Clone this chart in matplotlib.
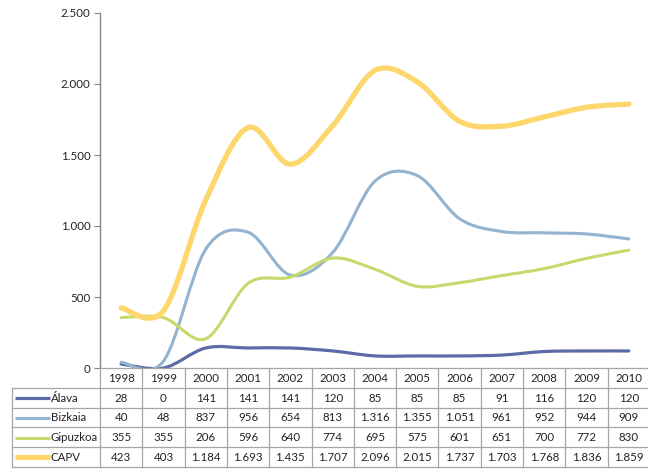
"""Smoothed line chart with data table underneath (Excel style)."""

import numpy as np
import matplotlib
matplotlib.use("Agg")
import matplotlib.pyplot as plt
from matplotlib.path import Path
from matplotlib.patches import PathPatch
from matplotlib.lines import Line2D

plt.rcParams["font.family"] = ["Lato", "DejaVu Sans"]

years = [1998, 1999, 2000, 2001, 2002, 2003, 2004, 2005, 2006, 2007, 2008, 2009, 2010]
alava = [28, 0, 141, 141, 141, 120, 85, 85, 85, 91, 116, 120, 120]
bizkaia = [40, 48, 837, 956, 654, 813, 1316, 1355, 1051, 961, 952, 944, 909]
gipuzkoa = [355, 355, 206, 596, 640, 774, 695, 575, 601, 651, 700, 772, 830]
capv = [423, 403, 1184, 1693, 1435, 1707, 2096, 2015, 1737, 1703, 1768, 1836, 1859]

series_names = ["Álava", "Bizkaia", "Gipuzkoa", "CAPV"]
series_vals = [alava, bizkaia, gipuzkoa, capv]
colours = ["#5d6aa5", "#93b3cf", "#c7d96c", "#fdd66c"]
widths = [2.3, 2.2, 2.2, 3.8]

y_ticks = [0, 500, 1000, 1500, 2000, 2500]

W, H = 648, 469
GRID = "#a6a6a6"
TXT = "#222222"
FS = 8.3


def fmt(v):
    return f"{v:,}".replace(",", ".")


def smooth_path(ys):
    """Excel-like smoothed line: cubic Bezier through every point."""
    pts = np.column_stack([np.arange(len(ys)), np.asarray(ys, float)])
    verts = [pts[0]]
    codes = [Path.MOVETO]
    n = len(pts)
    for i in range(n - 1):
        p0 = pts[max(i - 1, 0)]
        p1 = pts[i]
        p2 = pts[i + 1]
        p3 = pts[min(i + 2, n - 1)]
        c1 = p1 + (p2 - p0) / 6.0
        c2 = p2 - (p3 - p1) / 6.0
        verts += [c1, c2, p2]
        codes += [Path.CURVE4] * 3
    return Path(verts, codes)


fig = plt.figure(figsize=(W / 100, H / 100), dpi=100)
fig.patch.set_facecolor("white")

# pixel geometry
ax_left, ax_right = 100, 650
ax_top, ax_bot = 13, 368
ax = fig.add_axes([ax_left / W, (H - ax_bot) / H,
                   (ax_right - ax_left) / W, (ax_bot - ax_top) / H])

n = len(years)
ax.set_xlim(-0.5, n - 0.5)
ax.set_ylim(0, 2500)

for name, vals, c, lw in zip(series_names, series_vals, colours, widths):
    patch = PathPatch(smooth_path(vals), facecolor="none", edgecolor=c,
                      linewidth=lw, capstyle="round", joinstyle="round")
    ax.add_patch(patch)

for side in ("top", "right", "bottom"):
    ax.spines[side].set_visible(False)
ax.spines["left"].set_color("#868686")
ax.spines["left"].set_linewidth(1.0)
ax.set_xticks([])
ax.set_yticks(y_ticks)
ax.set_yticklabels([fmt(v) for v in y_ticks])
ax.tick_params(axis="y", direction="out", length=4, color="#868686",
               labelsize=FS, labelcolor=TXT, pad=3)

# ── data table ────────────────────────────────────────────────────────────────
tb_top, tb_bot = 368, 467
tax = fig.add_axes([ax_left / W, (H - tb_bot) / H,
                    (ax_right - ax_left) / W, (tb_bot - tb_top) / H])
tax.set_xlim(-0.5, n - 0.5)
n_rows = len(series_names) + 1
tax.set_ylim(n_rows, 0)
tax.axis("off")

col_w_px = (ax_right - ax_left) / n
leg_left = -0.5 - (ax_left - 12) / col_w_px

kw = dict(color=GRID, linewidth=0.9, clip_on=False)
# horizontal borders
tax.add_line(Line2D([-0.5, n - 0.5], [0, 0], **kw))
for r in range(1, n_rows + 1):
    tax.add_line(Line2D([leg_left, n - 0.5], [r, r], **kw))
# vertical borders
for c in range(n + 1):
    tax.add_line(Line2D([c - 0.5, c - 0.5], [0, n_rows], **kw))
tax.add_line(Line2D([leg_left, leg_left], [1, n_rows], **kw))

for i, yr in enumerate(years):
    tax.text(i, 0.52, str(yr), ha="center", va="center", fontsize=FS, color=TXT)

sw_a = leg_left + 3 / col_w_px
sw_b = leg_left + 38 / col_w_px
for r, (name, vals, c, lw) in enumerate(zip(series_names, series_vals, colours, widths), start=1):
    yc = r + 0.52
    tax.add_line(Line2D([sw_a, sw_b], [yc, yc], color=c, linewidth=lw,
                        solid_capstyle="butt", clip_on=False))
    tax.text(sw_b + 0.02, yc, name, ha="left", va="center", fontsize=FS, color=TXT)
    for i, v in enumerate(vals):
        tax.text(i, yc, fmt(v), ha="center", va="center", fontsize=FS, color=TXT)

fig.savefig("out.png", dpi=100, facecolor=fig.get_facecolor())
plt.close(fig)
